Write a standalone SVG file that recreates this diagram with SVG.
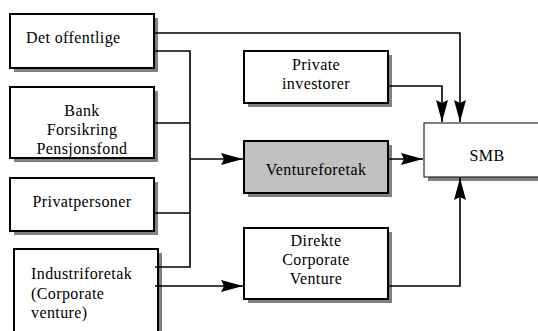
<svg xmlns="http://www.w3.org/2000/svg" width="538" height="331" viewBox="0 0 538 331">
<style>
.box{fill:#fff;stroke:#000;stroke-width:2}
.gbox{fill:#c0c0c0;stroke:#000;stroke-width:2}
.sh{fill:#808080;stroke:none}
.t{font-family:'Liberation Serif','DejaVu Serif',serif;font-size:16px;letter-spacing:0.4px;fill:#000}
.c{text-anchor:middle}
.ln{fill:none;stroke:#000;stroke-width:1.6}
</style>
<defs>
<marker id="ah" viewBox="0 0 22 12" refX="22" refY="6" markerWidth="22" markerHeight="12" markerUnits="userSpaceOnUse" orient="auto">
<path d="M0,0 L22,6 L0,12 L3,6 z" fill="#000"/>
</marker>
</defs>
<rect width="538" height="331" fill="#fff"/>
<g id="det-offentlige">
<rect class="sh" x="14" y="18" width="144" height="54"/>
<rect class="box" x="10" y="14" width="144" height="54"/>
<text class="t" x="26" y="43">Det offentlige</text>
</g>
<g id="bank">
<rect class="sh" x="14" y="91" width="144" height="71"/>
<rect class="box" x="10" y="87" width="144" height="71"/>
<text class="t c" x="82" y="116">Bank</text>
<text class="t c" x="82" y="135">Forsikring</text>
<text class="t c" x="82" y="154">Pensjonsfond</text>
</g>
<g id="privatpersoner">
<rect class="sh" x="14" y="182" width="144" height="53"/>
<rect class="box" x="10" y="178" width="144" height="53"/>
<text class="t c" x="82" y="207">Privatpersoner</text>
</g>
<g id="industriforetak">
<rect class="sh" x="18" y="253" width="144" height="90"/>
<rect class="box" x="14" y="249" width="144" height="90"/>
<text class="t" x="31" y="279">Industriforetak</text>
<text class="t" x="31" y="299">(Corporate</text>
<text class="t" x="31" y="318">venture)</text>
</g>
<g id="private-investorer">
<rect class="sh" x="248" y="55" width="144" height="52"/>
<rect class="box" x="244" y="51" width="144" height="52"/>
<text class="t c" x="316" y="70">Private</text>
<text class="t c" x="316" y="89">investorer</text>
</g>
<g id="ventureforetak">
<rect class="sh" x="248" y="145" width="144" height="52"/>
<rect class="gbox" x="244" y="141" width="144" height="52"/>
<text class="t c" x="316" y="175">Ventureforetak</text>
</g>
<g id="direkte">
<rect class="sh" x="248" y="232" width="144" height="71"/>
<rect class="box" x="244" y="228" width="144" height="71"/>
<text class="t c" x="316" y="246">Direkte</text>
<text class="t c" x="316" y="265">Corporate</text>
<text class="t c" x="316" y="284">Venture</text>
</g>
<g id="smb">
<rect class="sh" x="428" y="127" width="120" height="54"/>
<rect x="424" y="123" width="120" height="54" fill="#fff" stroke="#000" stroke-width="1"/>
<text class="t c" x="487" y="161">SMB</text>
</g>
<g id="connectors">
<polyline class="ln" points="154,33 460,33 460,122" marker-end="url(#ah)"/>
<polyline class="ln" points="388,86 442,86 442,122" marker-end="url(#ah)"/>
<polyline class="ln" points="154,51 190,51 190,267 155,267"/>
<line class="ln" x1="154" y1="123" x2="190" y2="123"/>
<line class="ln" x1="154" y1="213" x2="190" y2="213"/>
<line class="ln" x1="190" y1="159" x2="243" y2="159" marker-end="url(#ah)"/>
<line class="ln" x1="388" y1="159" x2="423" y2="159" marker-end="url(#ah)"/>
<line class="ln" x1="155" y1="286" x2="243" y2="286" marker-end="url(#ah)"/>
<polyline class="ln" points="388,286 460,286 460,178" marker-end="url(#ah)"/>
</g>
</svg>
